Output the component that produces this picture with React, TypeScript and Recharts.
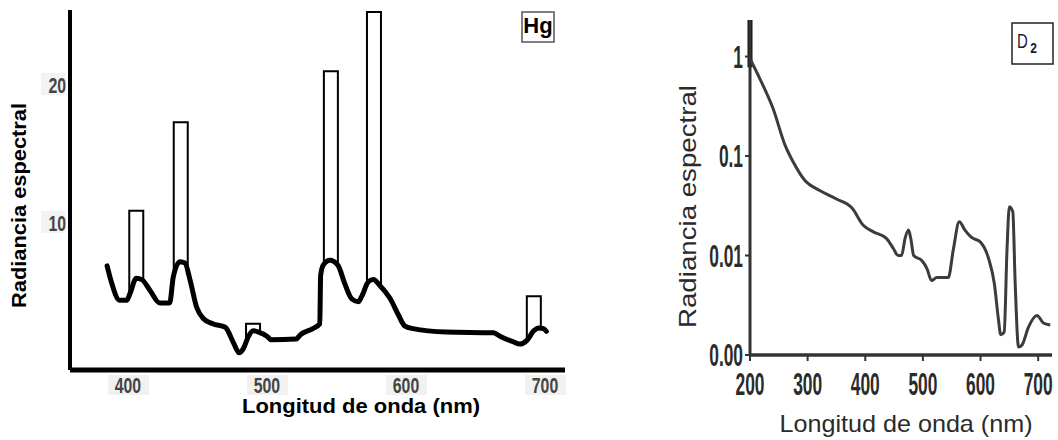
import React from 'react';
import { ComposedChart, LineChart, Line, Bar, XAxis, YAxis, ReferenceLine } from 'recharts';

// ---------- Hg lamp: continuum (nm, relative radiance) ----------
const hgWavelength = [
  385, 388, 394, 399, 401.5, 406, 410, 416, 423, 430, 432.6, 437.4, 441, 444.6, 449.4, 454, 461, 470,
  476, 480, 483, 486.5, 490, 494, 500, 503, 521, 524, 533, 538, 538.6, 540.5, 545.3, 551, 556, 561,
  565.7, 568, 573, 576.5, 581, 588.5, 594.5, 599, 605, 629, 663, 667.6, 677, 682, 687, 692, 695.5, 699, 701,
];
const hgRadiance = [
  6.9, 5.75, 4.4, 4.4, 4.9, 6.0, 5.9, 5.1, 4.2, 4.2, 6.1, 7.2, 7.1, 5.9, 3.9, 3.1, 2.7, 2.45,
  1.3, 0.6, 0.9, 1.75, 2.2, 2.1, 1.8, 1.55, 1.6, 1.9, 2.35, 2.7, 6.2, 6.95, 7.3, 6.95, 5.6, 4.5,
  4.3, 4.65, 5.75, 5.9, 5.5, 4.55, 3.35, 2.55, 2.35, 2.1, 2.05, 1.8, 1.4, 1.23, 1.5, 2.2, 2.4, 2.35, 2.15,
];

// ---------- Hg emission lines ----------
const hgLineNm = [406, 438, 490, 546, 577, 692];
const hgLineTop = [10.9, 17.3, 2.7, 21.0, 25.3, 4.7];
// where each line's left / right edge meets the continuum
const hgLineBaseLeft = [4.7, 6.6, 1.7, 6.9, 5.6, 1.6];
const hgLineBaseRight = [5.85, 6.9, 2.1, 7.0, 5.4, 2.4];

const hgXTicks = [400, 500, 600, 700];
const hgYTicks = [10, 20];

// ---------- D2 lamp (log scale) ----------
const d2Wavelength = [
  200, 217, 240, 261, 275, 295, 321, 350, 377, 397, 414, 437, 449, 457, 463, 469, 475, 479, 484, 498,
  507, 515, 524, 544, 553, 563, 573, 585, 599, 614, 624, 631, 635, 641, 646, 650, 656, 660, 666, 672,
  683, 698, 709, 721,
];
const d2Radiance = [
  0.95, 0.6, 0.3, 0.128, 0.087, 0.057, 0.045, 0.037, 0.03, 0.02, 0.0173, 0.0148, 0.0117, 0.01, 0.01,
  0.0148, 0.018, 0.0148, 0.01, 0.0089, 0.0074, 0.0056, 0.006, 0.006, 0.0117, 0.0218, 0.018, 0.0151,
  0.0138, 0.0093, 0.0052, 0.0023, 0.0016, 0.0017, 0.0117, 0.031, 0.0275, 0.0055, 0.0012, 0.00126,
  0.0019, 0.0025, 0.0021, 0.002,
];
const d2XTicks = [200, 300, 400, 500, 600, 700];
const d2YTicks = [0.001, 0.01, 0.1, 1];
const d2YTickLabels = ['0.00', '0.01', '0.1', '1'];

type HgRow = { nm: number; rad?: number; top?: number; baseL?: number; baseR?: number };

const hgRows: HgRow[] = (() => {
  const map = new Map<number, HgRow>();
  hgWavelength.forEach((nm, i) => map.set(nm, { nm, rad: hgRadiance[i] }));
  hgLineNm.forEach((nm, i) => {
    const row = map.get(nm) ?? { nm };
    row.top = hgLineTop[i];
    row.baseL = hgLineBaseLeft[i];
    row.baseR = hgLineBaseRight[i];
    map.set(nm, row);
  });
  return Array.from(map.values()).sort((a, b) => a.nm - b.nm);
})();

const d2Rows = d2Wavelength.map((nm, i) => ({ nm, rad: d2Radiance[i] }));

const SANS = '"Liberation Sans", Arial, Helvetica, sans-serif';
const LINE_BAR_PX = 14;

// Open-bottom rectangle centred on the line's wavelength; the sides stop
// where they meet the continuum curve
const EmissionLine = (props: any) => {
  const { x, y, width, height, payload } = props;
  if (!payload || payload.top == null || !height || !isFinite(height)) return null;
  const ppu = height / payload.top;
  const yl = y + (payload.top - payload.baseL) * ppu;
  const yr = y + (payload.top - payload.baseR) * ppu;
  const cx = x + (width || 0) / 2;
  const x0 = cx - LINE_BAR_PX / 2;
  const x1 = cx + LINE_BAR_PX / 2;
  return (
    <path
      d={`M${x0},${yl} L${x0},${y} L${x1},${y} L${x1},${yr}`}
      fill="none"
      stroke="#000"
      strokeWidth={2}
    />
  );
};

const HgXTick = ({ x, y, payload }: any) => (
  <g transform={`translate(${x},${y})`}>
    <rect x={-20} y={5} width={41} height={20} fill="#f1f1f1" />
    <g transform="translate(0,22.5) scale(0.72,1)">
      <text textAnchor="middle" fontSize={22} fontWeight="bold" fill="#444" fontFamily={SANS}>
        {payload.value}
      </text>
    </g>
  </g>
);

const HgYTick = ({ x, y, payload }: any) => (
  <g transform={`translate(${x},${y})`}>
    <rect x={-29} y={-12} width={24} height={22} fill="#f3f3f3" />
    <g transform="translate(-4,8) scale(0.72,1)">
      <text textAnchor="end" fontSize={22} fontWeight="bold" fill="#444" fontFamily={SANS}>
        {payload.value}
      </text>
    </g>
  </g>
);

const D2XTick = ({ x, y, payload }: any) => (
  <g transform={`translate(${x},${y + 34}) scale(0.56,1)`}>
    <text textAnchor="middle" fontSize={31} fontWeight="bold" fill="#2b2b2b" fontFamily={SANS}>
      {payload.value}
    </text>
  </g>
);

const D2YTick = ({ x, y, payload, index }: any) => (
  <g transform={`translate(${x - 2},${y + 11}) scale(0.56,1)`}>
    <text textAnchor="end" fontSize={31} fontWeight="bold" fill="#2b2b2b" fontFamily={SANS}>
      {d2YTickLabels[d2YTicks.indexOf(payload.value)] ?? d2YTickLabels[index]}
    </text>
  </g>
);

export default function App() {
  return (
    <div
      style={{
        position: 'absolute',
        left: 0,
        top: 0,
        width: 1058,
        height: 440,
        background: '#fff',
        overflow: 'hidden',
      }}
    >
      {/* Hg spectrum */}
      <div style={{ position: 'absolute', left: 0, top: 0 }}>
        <ComposedChart
          width={600}
          height={440}
          data={hgRows}
          margin={{ top: 10, right: 35, bottom: 0, left: 0 }}
        >
          <XAxis
            dataKey="nm"
            type="number"
            domain={[358.3, 714.4]}
            ticks={hgXTicks}
            allowDataOverflow
            height={70}
            tickSize={0}
            tickMargin={0}
            tickLine={false}
            axisLine={{ stroke: '#000', strokeWidth: 5 }}
            tick={<HgXTick />}
          />
          <YAxis
            type="number"
            domain={[-0.65, 25.44]}
            ticks={hgYTicks}
            allowDataOverflow
            width={70}
            tickSize={0}
            tickMargin={0}
            tickLine={false}
            axisLine={{ stroke: '#000', strokeWidth: 4 }}
            tick={<HgYTick />}
          />
          <Bar dataKey="top" barSize={14} shape={<EmissionLine />} isAnimationActive={false} />
          <Line
            dataKey="rad"
            type="monotone"
            stroke="#000"
            strokeWidth={5}
            strokeLinejoin="round"
            strokeLinecap="round"
            dot={false}
            activeDot={false}
            connectNulls
            isAnimationActive={false}
          />
        </ComposedChart>
      </div>

      {/* D2 spectrum */}
      <div style={{ position: 'absolute', left: 640, top: 0 }}>
        <LineChart
          width={418}
          height={440}
          data={d2Rows}
          margin={{ top: 20, right: 6, bottom: 0, left: 0 }}
        >
          <XAxis
            dataKey="nm"
            type="number"
            domain={[200, 724]}
            ticks={d2XTicks}
            allowDataOverflow
            height={85}
            tickSize={6}
            tickMargin={0}
            tickLine={{ stroke: '#333', strokeWidth: 2 }}
            axisLine={{ stroke: '#333', strokeWidth: 3.5 }}
            tick={<D2XTick />}
          />
          <YAxis
            type="number"
            scale="log"
            domain={[0.001, 2.33]}
            ticks={d2YTicks}
            allowDataOverflow
            width={110}
            tickSize={5}
            tickMargin={0}
            tickLine={{ stroke: '#333', strokeWidth: 2 }}
            axisLine={{ stroke: '#333', strokeWidth: 3 }}
            tick={<D2YTick />}
          />
          <ReferenceLine
            segment={[
              { x: 200, y: 0.78 },
              { x: 200, y: 2.33 },
            ]}
            stroke="#111"
            strokeWidth={5}
            ifOverflow="visible"
          />
          <Line
            dataKey="rad"
            type="monotone"
            stroke="#3c3c3c"
            strokeWidth={3}
            dot={false}
            activeDot={false}
            isAnimationActive={false}
          />
        </LineChart>
      </div>

      {/* titles and lamp labels */}
      <svg
        width={1058}
        height={440}
        style={{ position: 'absolute', left: 0, top: 0, pointerEvents: 'none' }}
      >
        <text
          transform="translate(26,205.5) rotate(-90)"
          textAnchor="middle"
          fontFamily={SANS}
          fontWeight="bold"
          fontSize={20}
          textLength={205}
          lengthAdjust="spacingAndGlyphs"
          fill="#000"
        >
          Radiancia espectral
        </text>
        <text
          x={361}
          y={413}
          textAnchor="middle"
          fontFamily={SANS}
          fontWeight="bold"
          fontSize={20}
          textLength={238}
          lengthAdjust="spacingAndGlyphs"
          fill="#000"
        >
          Longitud de onda (nm)
        </text>
        <rect x={522} y={12} width={32} height={30} fill="#fff" stroke="#555" strokeWidth={1.5} />
        <text
          x={538}
          y={33}
          textAnchor="middle"
          fontFamily={SANS}
          fontWeight="bold"
          fontSize={22}
          fill="#000"
        >
          Hg
        </text>

        <text
          transform="translate(696,206.5) rotate(-90)"
          textAnchor="middle"
          fontFamily={SANS}
          fontSize={24}
          textLength={243}
          lengthAdjust="spacingAndGlyphs"
          fill="#2a2a2a"
        >
          Radiancia espectral
        </text>
        <text
          x={906}
          y={432}
          textAnchor="middle"
          fontFamily={SANS}
          fontSize={24}
          textLength={253}
          lengthAdjust="spacingAndGlyphs"
          fill="#2a2a2a"
        >
          Longitud de onda (nm)
        </text>
        <rect x={1012} y={23} width={41} height={41} fill="#fff" stroke="#222" strokeWidth={1.5} />
        <g transform="translate(1022.5,48) scale(0.75,1)">
          <text textAnchor="middle" fontFamily={SANS} fontSize={20} fill="#1c1c3a">
            D
          </text>
        </g>
        <g transform="translate(1033.5,53) scale(0.8,1)">
          <text textAnchor="middle" fontFamily={SANS} fontWeight="bold" fontSize={15} fill="#1c1c3a">
            2
          </text>
        </g>
      </svg>
    </div>
  );
}
